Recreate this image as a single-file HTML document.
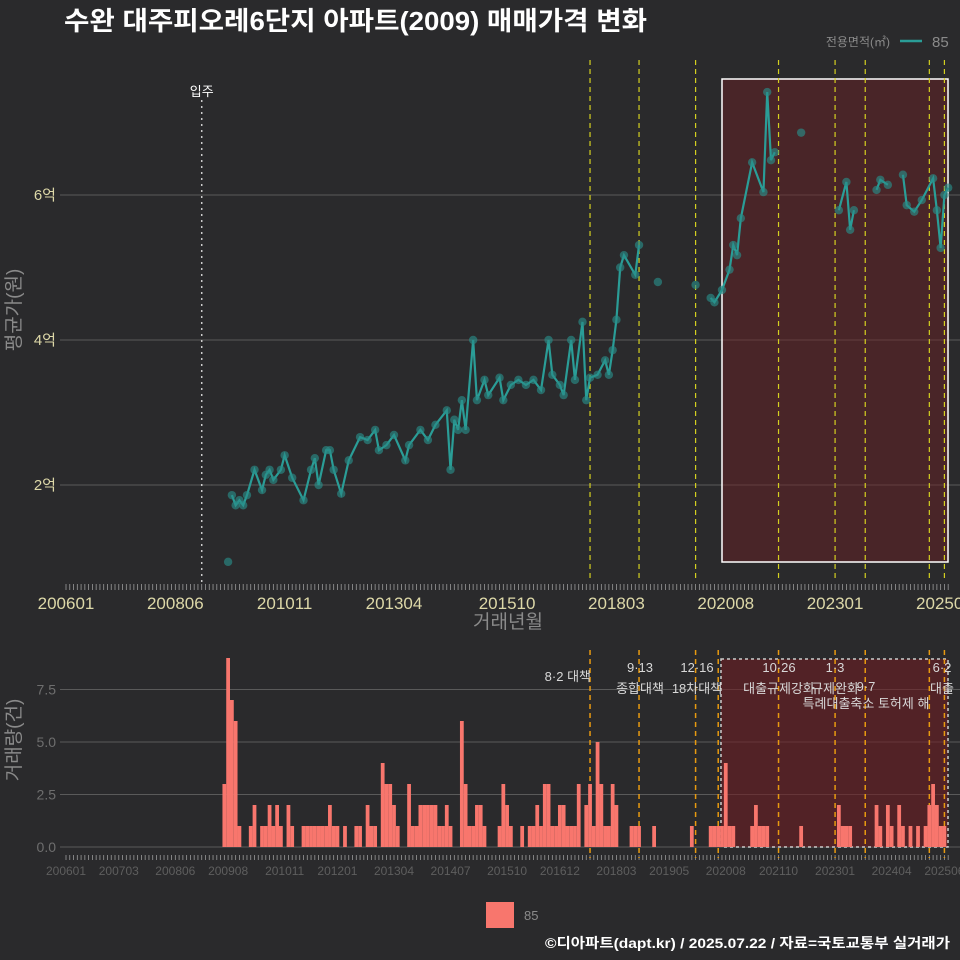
<!DOCTYPE html>
<html><head><meta charset="utf-8">
<style>
html,body{margin:0;padding:0;background:#2a2a2c;}
svg{display:block;font-family:"Liberation Sans","Noto Sans CJK KR",sans-serif;}
</style></head>
<body>
<svg id="c" width="960" height="960" viewBox="0 0 960 960">
<rect x="0" y="0" width="960" height="960" fill="#2a2a2c"/>
<text x="64" y="30" fill="#ffffff" font-size="26" font-weight="bold" textLength="583" lengthAdjust="spacingAndGlyphs">수완 대주피오레6단지 아파트(2009) 매매가격 변화</text>
<g>
<text x="890" y="46" fill="#8a8a8a" font-size="12" text-anchor="end">전용면적(㎡)</text>
<line x1="900" y1="41" x2="922" y2="41" stroke="#2a9d97" stroke-width="2.5"/>
<text x="932" y="47" fill="#8a8a8a" font-size="15">85</text>
</g>
<text x="508" y="628" fill="#8a8a8a" font-size="19" text-anchor="middle">거래년월</text>
<text transform="translate(20,310) rotate(-90)" fill="#8a8a8a" font-size="19" text-anchor="middle">평균가(원)</text>
<text transform="translate(20,740) rotate(-90)" fill="#8a8a8a" font-size="19" text-anchor="middle">거래량(건)</text>
<g>
<rect x="486" y="902" width="28" height="26" fill="#f8766d"/>
<text x="524" y="920" fill="#8a8a8a" font-size="13">85</text>
</g>
<text x="950" y="948" fill="#ffffff" font-size="14" font-weight="bold" text-anchor="end" textLength="405" lengthAdjust="spacingAndGlyphs">©디아파트(dapt.kr) / 2025.07.22 / 자료=국토교통부 실거래가</text>
</svg>
<script>
// ---- data ----
const priceMonths = ["200908","200909","200910","200911","200912","201001","201003","201005","201006","201007","201008","201010","201011","201101","201104","201106","201107","201108","201110","201111","201112","201202","201204","201207","201209","201211","201212","201302","201304","201307","201308","201311","201401","201403","201406","201407","201408","201409","201410","201411","201501","201502","201504","201505","201508","201509","201511","201601","201603","201605","201607","201609","201610","201612","201701","201703","201704","201706","201707","201708","201710","201712","201801","201802","201803","201804","201805","201808","201809","201902","201912","202004","202005","202007","202009","202010","202011","202012","202103","202106","202107","202108","202109","202204","202302","202304","202305","202306","202312","202401","202403","202407","202408","202410","202412","202503","202504","202505","202506","202507"];
const priceValues = [0.94,1.86,1.72,1.79,1.72,1.86,2.21,1.93,2.14,2.21,2.07,2.21,2.41,2.10,1.79,2.21,2.37,2.0,2.48,2.48,2.21,1.88,2.34,2.66,2.62,2.76,2.48,2.55,2.69,2.34,2.55,2.76,2.62,2.83,3.03,2.21,2.90,2.76,3.17,2.76,4.0,3.17,3.45,3.24,3.48,3.17,3.38,3.45,3.38,3.45,3.31,4.0,3.52,3.38,3.24,4.0,3.45,4.25,3.17,3.48,3.52,3.72,3.52,3.86,4.28,5.0,5.17,4.9,5.31,4.8,4.76,4.58,4.52,4.69,4.97,5.31,5.17,5.68,6.45,6.04,7.42,6.48,6.59,6.86,5.79,6.18,5.52,5.79,6.07,6.21,6.14,6.28,5.86,5.77,5.93,6.23,5.79,5.27,6.0,6.1];
const volMonths = ["200907","200908","200909","200910","200911","201002","201003","201005","201006","201007","201008","201009","201010","201012","201101","201104","201105","201106","201107","201108","201109","201110","201111","201112","201201","201203","201206","201207","201209","201210","201211","201301","201302","201303","201304","201305","201308","201309","201310","201311","201312","201401","201402","201403","201404","201405","201406","201407","201410","201411","201412","201501","201502","201503","201504","201508","201509","201510","201511","201602","201604","201605","201606","201607","201608","201609","201610","201611","201612","201701","201702","201703","201704","201705","201707","201708","201709","201710","201711","201712","201801","201802","201803","201807","201808","201809","201901","201911","202004","202005","202006","202007","202008","202009","202010","202103","202104","202105","202106","202107","202204","202302","202303","202304","202305","202312","202401","202403","202404","202406","202407","202409","202411","202501","202502","202503","202504","202505","202506"];
const volCounts = [3,9,7,6,1,1,2,1,1,2,1,2,1,2,1,1,1,1,1,1,1,1,2,1,1,1,1,1,2,1,1,4,3,3,2,1,3,1,1,2,2,2,2,2,1,1,2,1,6,3,1,1,2,2,1,1,3,2,1,1,1,1,2,1,3,3,1,1,2,2,1,1,1,3,2,3,1,5,3,1,1,3,2,1,1,1,1,1,1,1,1,1,4,1,1,1,2,1,1,1,1,2,1,1,1,2,1,2,1,2,1,1,1,1,2,3,2,1,1];
const xTickTop = ["200601","200806","201011","201304","201510","201803","202008","202301","202506"];
const xTickBottom = ["200601","200703","200806","200908","201011","201201","201304","201407","201510","201612","201803","201905","202008","202110","202301","202404","202506"];
const priceTicks = [2,4,6];
const priceTickLabels = ["2억","4억","6억"];
const volTicks = [0,2.5,5,7.5];
const volTickLabels = ["0.0","2.5","5.0","7.5"];
const policyMonths = ["201708","201809","201912","202110","202301","202309","202502","202506"];
const moveInMonth = "200901";

// ---- scales ----
const NS="http://www.w3.org/2000/svg";
const svg=document.getElementById('c');
const X0=66, S=3.77;
function mi(s){return (parseInt(s.slice(0,4))-2006)*12+parseInt(s.slice(4,6))-1;}
function x(s){return X0+mi(s)*S;}
function yP(v){return 485-(v-2)*72.5;}
function yV(v){return 847-v*21;}
function el(tag,attrs,parent){const e=document.createElementNS(NS,tag);for(const k in attrs)e.setAttribute(k,attrs[k]);(parent||svg).appendChild(e);return e;}

priceTicks.forEach((t,i)=>{
  const g=el('line',{x1:60,x2:960,y1:yP(t),y2:yP(t),stroke:'#5a5a5a','stroke-width':1});
  
  
  const l=el('text',{x:56,y:yP(t)+5,fill:'#ddd8a8','font-size':15,'text-anchor':'end'});
  l.textContent=priceTickLabels[i];
  
  
});
volTicks.forEach((t,i)=>{
  const g=el('line',{x1:60,x2:960,y1:yV(t),y2:yV(t),stroke:'#5a5a5a','stroke-width':1});
  
  
  const l=el('text',{x:56,y:yV(t)+5,fill:'#6e6e6e','font-size':14,'text-anchor':'end'});
  l.textContent=volTickLabels[i];
  
  
});
for(let m=0;m<=234;m++){
  const t1=el('line',{x1:X0+m*S,x2:X0+m*S,y1:584,y2:590,stroke:'#9a9a9a','stroke-width':0.8});
  
  
  const t2=el('line',{x1:X0+m*S,x2:X0+m*S,y1:855,y2:860,stroke:'#9a9a9a','stroke-width':0.8});
  
  
}
xTickTop.forEach(s=>{
  const l=el('text',{x:x(s),y:609,fill:'#ddd8a8','font-size':17,'text-anchor':'middle'});
  l.textContent=s;
  
  
});
xTickBottom.forEach(s=>{
  const l=el('text',{x:x(s),y:875,fill:'#5e5e5e','font-size':12,'text-anchor':'middle'});
  l.textContent=s;
  
  
});

const r1=el('rect',{x:722,y:79,width:226,height:483,fill:'rgba(110,30,35,0.45)',stroke:'#ffffff','stroke-width':1.5});


const r2=el('rect',{x:721,y:659,width:227,height:188,fill:'rgba(110,30,35,0.6)',stroke:'#cccccc','stroke-width':1.5,'stroke-dasharray':'3,3'});



const mv=el('line',{x1:x(moveInMonth),x2:x(moveInMonth),y1:100,y2:582,stroke:'#cccccc','stroke-width':1.5,'stroke-dasharray':'2,4'});


const mvt=el('text',{x:x(moveInMonth),y:96,fill:'#ffffff','font-size':13,'text-anchor':'middle'});
mvt.textContent='입주';



policyMonths.forEach(s=>{
  const a=el('line',{x1:x(s),x2:x(s),y1:60,y2:582,stroke:'#d4d020','stroke-width':1.2,'stroke-dasharray':'5,4'});
  
  
});
policyMonths.concat(["202006"]).forEach(s=>{
  const b=el('line',{x1:x(s),x2:x(s),y1:650,y2:858,stroke:'#e89a10','stroke-width':1.5,'stroke-dasharray':'5,4'});
  
  
});

volMonths.forEach((s,i)=>{
  const b=el('rect',{x:x(s)-S/2,y:yV(volCounts[i]),width:S,height:volCounts[i]*21,fill:'#f8766d'});
  
  
});

const labels=[[591,681,'8·2 대책','end'],[640,672,'9·13','middle'],[640,693,'종합대책','middle'],[697,672,'12·16','middle'],[697,693,'18차대책','middle'],[779,672,'10·26','middle'],[779,693,'대출규제강화','middle'],[835,672,'1·3','middle'],[835,693,'규제완화','middle'],[866,691,'9·7','middle'],[866,708,'특례대출축소 토허제 해','middle'],[942,672,'6·2','middle'],[942,693,'대출','middle']];
labels.forEach(a=>{
  const t=el('text',{x:a[0],y:a[1],fill:'#d8d8d8','font-size':13,'text-anchor':a[3]});
  t.textContent=a[2];
  
  
});

// price line segments: break where gap > 3 months
let seg=[];
function flush(){
  if(seg.length>1){
    const pl=el('polyline',{points:seg.join(' '),fill:'none',stroke:'#2a9d97','stroke-width':2.2});
    
    
  }
  seg=[];
}
priceMonths.forEach((s,i)=>{
  if(i>0 && mi(s)-mi(priceMonths[i-1])>3) flush();
  if(i===0) return;
  seg.push(x(s)+','+yP(priceValues[i]));
});
flush();
priceMonths.forEach((s,i)=>{
  const c=el('circle',{cx:x(s),cy:yP(priceValues[i]),r:4.2,fill:'rgba(42,140,135,0.65)'});
  
  
});
</script>
</body></html>
